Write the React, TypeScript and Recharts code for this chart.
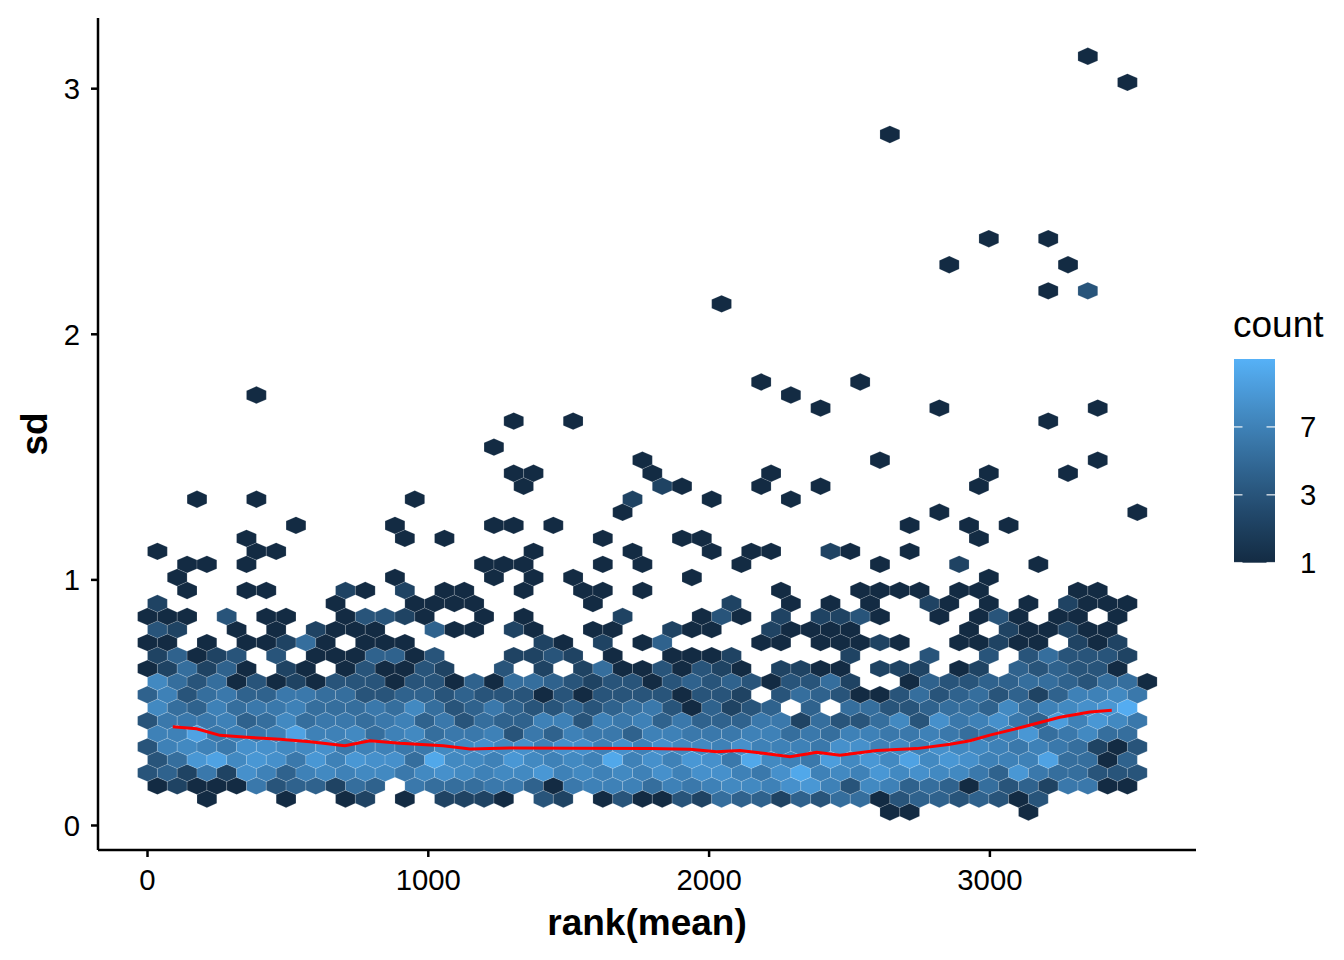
import React from 'react';
import { ComposedChart, Scatter, XAxis, YAxis } from 'recharts';

const FONT = '"Liberation Sans", Arial, Helvetica, sans-serif';

// ---- axes / scale data ----
const xTicks = [0, 1000, 2000, 3000];
const yTicks = [0, 1, 2, 3];
const legendBreaks = [1, 3, 7];
const countMin = 1;
const countMax = 15;
const X_DOMAIN: [number, number] = [-176.3, 3734.0];
const Y_DOMAIN: [number, number] = [-0.0998, 3.2878];

// ---- hexbin grid (data units) ----
const BIN_X = 70.5; // distance between hexagon centres in a row
const BIN_ROW = 0.05305; // distance between hexagon rows
const BIN_Y0 = 0.055; // centre of row 0

// counts per bin, one string per row (row 1 .. row 16), one char per column
// '.' = empty, 1-9, a=10 ... f=15
const denseRows: string[] = [
  '...1...1..' + '12.1.2221.' + '32.1311325' + '4424355134' + '434313',
  '1211163442' + '54.6555664' + '1677757678' + '879a738745' + '4153426611',
  '3426297478' + '7886898788' + 'a787879799' + '769d787a89' + '8864a655333',
  '35ac8a96a7' + 'a995d887a8' + '787d797a96' + 'd876b8a8c8' + 'a9777c5514',
  '3787699889' + '6776688989' + '7997979887' + '9777699787' + '98876765213',
  '77c6767c77' + '8578566736' + '4766477666' + '7756577667' + '6567a56855',
  '3666745856' + '6567463544' + '7737674644' + '4662533583' + '967964b7a86',
  '8547566755' + '5658534643' + '3434563142' + '34.4.55334' + '55485789ae',
  '4735644665' + '5334434333' + '1313333133' + '2.35431135' + '34534247786',
  '8535131213' + '3313314155' + '4323313434' + '313352..14' + '33445543551',
  '125241.21.' + '131132..3.' + '2.25113132' + '1.2211.222' + '.12.434331',
  '24123.3.11' + '14413...22' + '32.1..1112' + '.....2...3' + '..3.353332',
  '11.1.11251' + '.111......' + '21.2.14...' + '.11.11121.' + '.11211.212',
  '32..1.1.21' + '11..411.21' + '..11..211.' + '.21111....' + '.1.211211',
  '111.3.11..' + '13321..1.1' + '....2...13' + '1.2.2231..' + '1.131.11.1',
  '2........1' + '...1111...' + '..1......2' + '..1.1.1..2' + '1.1.1.2111',
];
const DENSE_FIRST_ROW = 1;

// sparse bins: [row, column, count]
const sparseHexes: [number, number, number][] = [
  [0, 37, 1], [0, 38, 1], [0, 44, 1],
  [17, 2, 1], [17, 5, 1], [17, 6, 1], [17, 10, 2], [17, 11, 1], [17, 13, 2], [17, 15, 1], [17, 16, 1],
  [17, 19, 1], [17, 22, 1], [17, 23, 1], [17, 25, 1], [17, 32, 1], [17, 36, 1], [17, 37, 1], [17, 38, 1],
  [17, 39, 1], [17, 41, 1], [17, 42, 1], [17, 47, 1], [17, 48, 1],
  [18, 1, 1], [18, 12, 1], [18, 17, 1], [18, 19, 1], [18, 21, 1], [18, 27, 1], [18, 42, 1],
  [19, 2, 1], [19, 3, 1], [19, 5, 1], [19, 17, 1], [19, 18, 1], [19, 19, 1], [19, 23, 1], [19, 25, 1],
  [19, 30, 1], [19, 37, 1], [19, 41, 2], [19, 45, 1],
  [20, 0, 1], [20, 5, 1], [20, 6, 1], [20, 19, 1], [20, 24, 1], [20, 28, 1], [20, 30, 1], [20, 31, 1],
  [20, 34, 2], [20, 35, 1], [20, 38, 1],
  [21, 5, 1], [21, 13, 1], [21, 15, 1], [21, 23, 1], [21, 27, 1], [21, 28, 1], [21, 42, 1],
  [22, 7, 1], [22, 12, 1], [22, 17, 1], [22, 18, 1], [22, 20, 1], [22, 38, 1], [22, 41, 1], [22, 43, 1],
  [23, 24, 1], [23, 40, 1], [23, 50, 1],
  [24, 2, 1], [24, 5, 1], [24, 13, 1], [24, 24, 2], [24, 28, 1], [24, 32, 1],
  [25, 19, 1], [25, 26, 2], [25, 27, 1], [25, 31, 1], [25, 34, 1], [25, 42, 1],
  [26, 18, 1], [26, 19, 1], [26, 25, 1], [26, 31, 1], [26, 42, 1], [26, 46, 1],
  [27, 25, 1], [27, 37, 1], [27, 48, 1],
  [28, 17, 1],
  [30, 18, 1], [30, 21, 1], [30, 45, 1],
  [31, 34, 1], [31, 40, 1], [31, 48, 1],
  [32, 5, 1], [32, 32, 1],
  [33, 31, 1], [33, 36, 1],
  [39, 29, 1],
  [40, 45, 1], [40, 47, 3],
  [42, 40, 1], [42, 46, 1],
  [44, 42, 1], [44, 45, 1],
  [52, 37, 1],
  [56, 49, 1],
  [58, 47, 1],
];

// smoother (red line)
const smoothX = [90, 175, 258, 353, 472, 579, 703, 792, 899, 1053, 1149, 1303, 1504, 1790, 1932, 2027, 2110,
  2193, 2288, 2348, 2383, 2466, 2597, 2739, 2858, 2929, 3000, 3107, 3249, 3356, 3434];
const smoothY = [0.402, 0.394, 0.367, 0.359, 0.351, 0.341, 0.325, 0.345, 0.335, 0.325, 0.311, 0.316, 0.314,
  0.313, 0.310, 0.300, 0.305, 0.294, 0.280, 0.291, 0.298, 0.286, 0.305, 0.313, 0.331, 0.345, 0.368, 0.398,
  0.441, 0.462, 0.469];

// ---- layout ----
const W = 1336;
const H = 940;
const MARGIN = { top: 10, right: 148, bottom: 8, left: 10 };
const Y_AXIS_W = 80;
const X_AXIS_H = 90;
const PLOT_W = W - MARGIN.left - MARGIN.right - Y_AXIS_W;
const PLOT_H = H - MARGIN.top - MARGIN.bottom - X_AXIS_H;
const PX_PER_X = PLOT_W / (X_DOMAIN[1] - X_DOMAIN[0]);
const PX_PER_Y = PLOT_H / (Y_DOMAIN[1] - Y_DOMAIN[0]);
const HEX_W = BIN_X * PX_PER_X;
const HEX_H = (4 / 3) * BIN_ROW * PX_PER_Y;

// ---- colour (ggplot default gradient in Lab space, log(count+1)) ----
const LOW = '#132B43';
const HIGH = '#56B1F7';
function hexToRgb(h: string) {
  const n = parseInt(h.slice(1), 16);
  return [(n >> 16) & 255, (n >> 8) & 255, n & 255];
}
function rgbToLab(rgb: number[]) {
  const lin = (c: number) => {
    c /= 255;
    return c <= 0.04045 ? c / 12.92 : Math.pow((c + 0.055) / 1.055, 2.4);
  };
  const [R, G, B] = rgb.map(lin);
  const X = (0.4124564 * R + 0.3575761 * G + 0.1804375 * B) / 0.95047;
  const Y = 0.2126729 * R + 0.7151522 * G + 0.072175 * B;
  const Z = (0.0193339 * R + 0.119192 * G + 0.9503041 * B) / 1.08883;
  const f = (t: number) => (t > 216 / 24389 ? Math.cbrt(t) : ((24389 / 27) * t + 16) / 116);
  const fx = f(X), fy = f(Y), fz = f(Z);
  return [116 * fy - 16, 500 * (fx - fy), 200 * (fy - fz)];
}
function labToHex(lab: number[]) {
  const [L, a, b] = lab;
  const fy = (L + 16) / 116;
  const fx = fy + a / 500;
  const fz = fy - b / 200;
  const inv = (t: number) => (t * t * t > 216 / 24389 ? t * t * t : (116 * t - 16) / (24389 / 27));
  const X = inv(fx) * 0.95047, Y = inv(fy), Z = inv(fz) * 1.08883;
  const r = 3.2404542 * X - 1.5371385 * Y - 0.4985314 * Z;
  const g = -0.969266 * X + 1.8760108 * Y + 0.041556 * Z;
  const bl = 0.0556434 * X - 0.2040259 * Y + 1.0572252 * Z;
  const gam = (c: number) => {
    const v = c <= 0.0031308 ? 12.92 * c : 1.055 * Math.pow(c, 1 / 2.4) - 0.055;
    return Math.max(0, Math.min(255, Math.round(v * 255)));
  };
  return '#' + [r, g, bl].map(gam).map((v) => v.toString(16).padStart(2, '0')).join('');
}
const LAB_LOW = rgbToLab(hexToRgb(LOW));
const LAB_HIGH = rgbToLab(hexToRgb(HIGH));
function colorAt(t: number) {
  const u = Math.max(0, Math.min(1, t));
  return labToHex(LAB_LOW.map((v, i) => v + (LAB_HIGH[i] - v) * u));
}
function countToT(c: number) {
  return (Math.log(c + 1) - Math.log(countMin + 1)) / (Math.log(countMax + 1) - Math.log(countMin + 1));
}

// ---- build hexagon table from the arrays ----
function binCentre(row: number, col: number) {
  const x = row % 2 === 1 ? col * BIN_X : (col + 0.5) * BIN_X;
  const y = BIN_Y0 + row * BIN_ROW;
  return { x, y };
}
const hexData: { x: number; y: number; count: number }[] = [];
sparseHexes.filter((h) => h[0] < DENSE_FIRST_ROW).forEach(([r, k, c]) => hexData.push({ ...binCentre(r, k), count: c }));
denseRows.forEach((s, i) => {
  const r = i + DENSE_FIRST_ROW;
  s.split('').forEach((ch, k) => {
    if (ch === '.') return;
    hexData.push({ ...binCentre(r, k), count: parseInt(ch, 16) });
  });
});
sparseHexes.filter((h) => h[0] >= DENSE_FIRST_ROW).forEach(([r, k, c]) => hexData.push({ ...binCentre(r, k), count: c }));

const smoothData = smoothX.map((x, i) => ({ x, y: smoothY[i] }));

const HexShape = (props: any) => {
  const { cx, cy, payload } = props;
  if (cx == null || cy == null) return <g />;
  const w = HEX_W / 2;
  const h = HEX_H / 2;
  const pts = [
    [0, -h], [w, -h / 2], [w, h / 2], [0, h], [-w, h / 2], [-w, -h / 2],
  ].map(([dx, dy]) => `${cx + dx},${cy + dy}`).join(' ');
  return (
    <polygon
      points={pts}
      fill={colorAt(countToT(payload.count))}
      stroke="#ffffff"
      strokeOpacity={0.22}
      strokeWidth={0.7}
    />
  );
};

const NoDot = () => <g />;

// legend geometry (overlay coords)
const LEG_X = 1226;
const LEG_TOP = 351;
const LEG_H = 203.7;
const LEG_W = 41;
const gradStops = Array.from({ length: 21 }, (_, i) => i / 20);

export default function App() {
  const axisStyle = { stroke: '#000', strokeWidth: 2.5 };
  const tickStyle = { fill: '#000', fontSize: 29.3, fontFamily: FONT };
  return (
    <div style={{ position: 'relative', width: W, height: H, fontFamily: FONT }}>
      <ComposedChart width={W} height={H} margin={MARGIN}>
        <XAxis
          type="number"
          dataKey="x"
          domain={X_DOMAIN}
          ticks={xTicks}
          interval={0}
          allowDataOverflow
          height={X_AXIS_H}
          tickSize={7}
          tickMargin={12}
          axisLine={axisStyle}
          tickLine={axisStyle}
          tick={tickStyle}
        />
        <YAxis
          type="number"
          dataKey="y"
          domain={Y_DOMAIN}
          ticks={yTicks}
          interval={0}
          allowDataOverflow
          width={Y_AXIS_W}
          tickSize={7}
          tickMargin={11}
          axisLine={axisStyle}
          tickLine={axisStyle}
          tick={tickStyle}
        />
        <Scatter data={hexData} dataKey="y" shape={HexShape} isAnimationActive={false} />
        <Scatter
          data={smoothData}
          dataKey="y"
          shape={NoDot}
          line={{ stroke: '#FF0000', strokeWidth: 3, fill: 'none' }}
          lineType="joint"
          isAnimationActive={false}
        />
      </ComposedChart>
      <svg
        width={W}
        height={H}
        style={{ position: 'absolute', left: 0, top: 0, pointerEvents: 'none' }}
      >
        <defs>
          <linearGradient id="countGrad" x1="0" y1="1" x2="0" y2="0">
            {gradStops.map((t) => (
              <stop key={t} offset={`${t * 100}%`} stopColor={colorAt(t)} />
            ))}
          </linearGradient>
        </defs>
        <text x={639} y={927} textAnchor="middle" fontSize={37} fontWeight={700} fontFamily={FONT} fill="#000">
          rank(mean)
        </text>
        <text
          x={38.5}
          y={426}
          textAnchor="middle"
          fontSize={37}
          fontWeight={700}
          fontFamily={FONT}
          fill="#000"
          transform="rotate(-90 38.5 426)"
        >
          sd
        </text>
        <text x={1225} y={329} fontSize={37} fontFamily={FONT} fill="#000">
          count
        </text>
        <rect x={LEG_X} y={LEG_TOP} width={LEG_W} height={LEG_H} fill="url(#countGrad)" />
        {legendBreaks.map((b) => {
          const y = LEG_TOP + LEG_H * (1 - countToT(b));
          return (
            <g key={b}>
              <line x1={LEG_X} x2={LEG_X + 8.5} y1={y} y2={y} stroke="#ffffff" strokeOpacity={0.75} strokeWidth={1.5} />
              <line x1={LEG_X + LEG_W - 8.5} x2={LEG_X + LEG_W} y1={y} y2={y} stroke="#ffffff" strokeOpacity={0.75} strokeWidth={1.5} />
              <text x={1292} y={y} dy="0.36em" fontSize={29.3} fontFamily={FONT} fill="#000">
                {b}
              </text>
            </g>
          );
        })}
      </svg>
    </div>
  );
}
